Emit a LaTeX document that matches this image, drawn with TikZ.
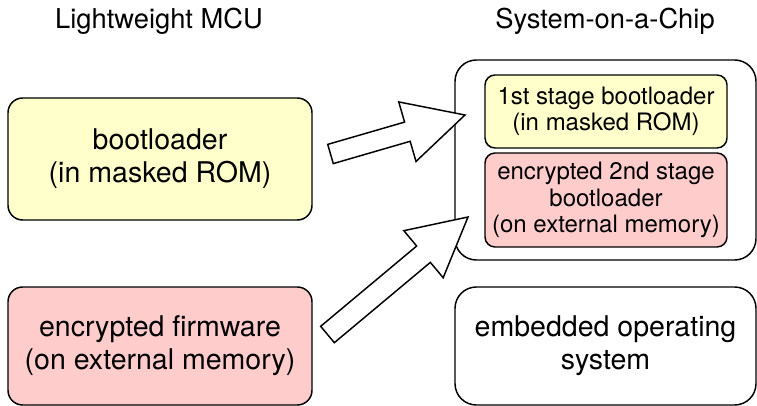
\documentclass[tikz,border=0pt]{standalone}
\usepackage{fontspec}
\setmainfont{TeX Gyre Heros}
\usetikzlibrary{calc}
\definecolor{romyellow}{RGB}{255,255,204}
\definecolor{encred}{RGB}{255,204,204}
\tikzset{
  box/.style={draw=black, line width=1.1pt, align=center, inner sep=0pt},
  bigtext/.style={font=\fontsize{21.4}{24.8}\selectfont},
  smalltext/.style={font=\fontsize{18}{19.8}\selectfont},
  title/.style={font=\fontsize{20.5}{24}\selectfont, inner sep=0pt},
  blockar/.style={draw=black, fill=white, line width=1.1pt, line join=miter},
}
\newcommand\blockarrow[5]{% tail, tip, shaft half, head half, head length
  \coordinate (#1-hb) at ($(#2)!#5!(#1)$);
  \draw[blockar] ($(#1)!#3!90:(#2)$) -- ($(#1-hb)!#3!90:(#2)$) -- ($(#1-hb)!#4!90:(#2)$)
    -- (#2) -- ($(#1-hb)!#4!-90:(#2)$) -- ($(#1-hb)!#3!-90:(#2)$) -- ($(#1)!#3!-90:(#2)$) -- cycle;
}
\begin{document}
\begin{tikzpicture}[x=0.75pt,y=-0.75pt]
\useasboundingbox (0,0) rectangle (757,406);
% titles
\node[title] (t1) at (159,21) {Lightweight MCU};
\node[title] (t2) at (605,21) {System-on-a-Chip};
% left column
\node[box, bigtext, fill=romyellow, rounded corners=11pt, minimum width=228pt, minimum height=91.5pt] (boot) at (160,159) {bootloader\\(in masked ROM)};
\node[box, bigtext, fill=encred, rounded corners=11pt, minimum width=228pt, minimum height=88.5pt] (fw) at (160,346) {encrypted firmware\\(on external memory)};
% SoC
\node[box, fill=white, rounded corners=16pt, minimum width=225.75pt, minimum height=150pt] (soc) at (605.5,160) {};
\node[box, smalltext, fill=romyellow, rounded corners=7.5pt, minimum width=181.5pt, minimum height=54.75pt] (s1) at (606,111.5) {1st stage bootloader\\(in masked ROM)};
\node[box, smalltext, fill=encred, rounded corners=7.5pt, minimum width=181.5pt, minimum height=70.5pt] (s2) at (606,200) {encrypted 2nd stage\\bootloader\\(on external memory)};
\node[box, bigtext, fill=white, rounded corners=16pt, minimum width=225.75pt, minimum height=88.5pt] (os) at (605.5,346) {embedded operating\\system};
% arrows
\coordinate (a1tail) at (330.5,154);
\coordinate (a1tip) at (465,115);
\coordinate (a2tail) at (327.5,334.5);
\coordinate (a2tip) at (468,217);
\blockarrow{a1tail}{a1tip}{7.5pt}{23.25pt}{45pt}
\blockarrow{a2tail}{a2tip}{8pt}{23pt}{43.5pt}
\end{tikzpicture}
\end{document}
